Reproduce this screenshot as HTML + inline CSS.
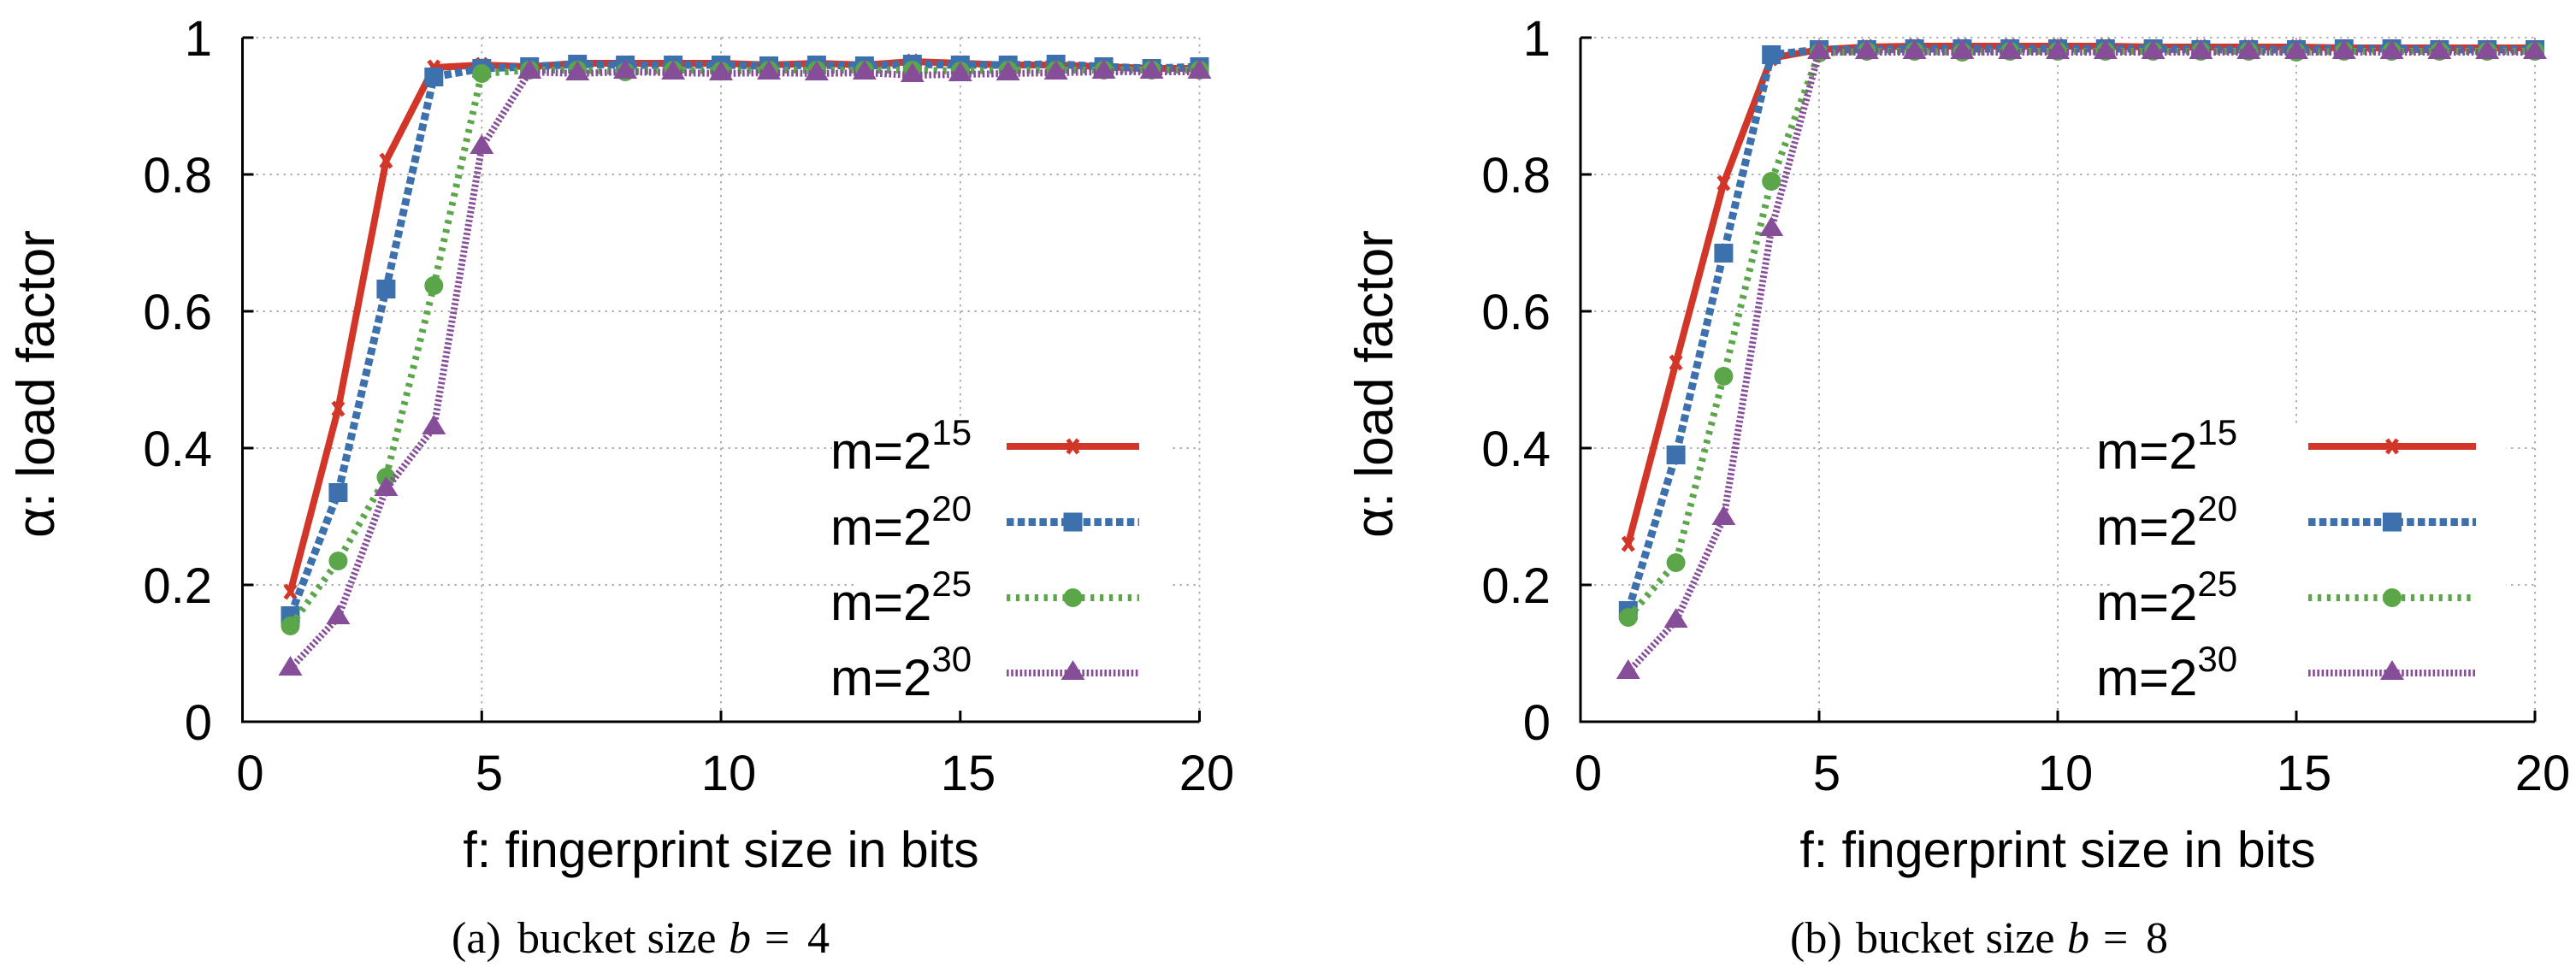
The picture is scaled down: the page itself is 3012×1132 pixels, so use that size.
<!DOCTYPE html>
<html>
<head>
<meta charset="utf-8">
<style>
  html, body { margin: 0; padding: 0; background: #ffffff; }
  svg { display: block; }
  .t { font-family: "Liberation Sans", Arial, sans-serif; fill: #000; }
  .s { font-family: "Liberation Serif", "Times New Roman", serif; fill: #000; }
</style>
</head>
<body>
<svg width="3012" height="1132" viewBox="0 0 3012 1132" xmlns="http://www.w3.org/2000/svg">
  <rect x="0" y="0" width="3012" height="1132" fill="#ffffff"/>
  <defs>
    <g id="mr"><path d="M-6,-8L6,8M6,-8L-6,8" stroke="#d13628" stroke-width="5" fill="none"/></g>
    <rect id="mb" x="-11" y="-11" width="22" height="22" fill="#3d71ae"/>
    <circle id="mg" r="11" fill="#5ba649"/>
    <path id="mp" d="M0,-15L14,8L-14,8Z" fill="#864e98"/>
  </defs>

  <!-- ================= LEFT PANEL ================= -->
  <g stroke="#a8a8a8" stroke-width="1.8" stroke-dasharray="2.5 5.5" fill="none">
    <line x1="283.5" y1="44" x2="1402.5" y2="44"/>
    <line x1="283.5" y1="204" x2="1402.5" y2="204"/>
    <line x1="283.5" y1="364" x2="1402.5" y2="364"/>
    <line x1="283.5" y1="524" x2="1402.5" y2="524"/>
    <line x1="283.5" y1="684" x2="1402.5" y2="684"/>
    <line x1="563.3" y1="44" x2="563.3" y2="844"/>
    <line x1="843" y1="44" x2="843" y2="844"/>
    <line x1="1122.8" y1="44" x2="1122.8" y2="844"/>
    <line x1="1402.5" y1="44" x2="1402.5" y2="844"/>
  </g>
  <rect x="973" y="495" width="393" height="110" fill="#fff"/>
  <rect x="998" y="600" width="368" height="232" fill="#fff"/>
  <g stroke="#000" stroke-width="3" fill="none">
    <path d="M283.5,44V845.5M282,844H1402.5"/>
    <path d="M283.5,44h13M283.5,204h13M283.5,364h13M283.5,524h13M283.5,684h13"/>
    <path d="M563.3,844v-13M843,844v-13M1122.8,844v-13M1402.5,844v-13"/>
  </g>
  <g class="t" font-size="58" text-anchor="end">
    <text x="248" y="865">0</text>
    <text x="248" y="705">0.2</text>
    <text x="248" y="545">0.4</text>
    <text x="248" y="385">0.6</text>
    <text x="248" y="225">0.8</text>
    <text x="248" y="65">1</text>
  </g>
  <g class="t" font-size="58" text-anchor="middle">
    <text x="292.5" y="924">0</text>
    <text x="572" y="924">5</text>
    <text x="852" y="924">10</text>
    <text x="1132" y="924">15</text>
    <text x="1411" y="924">20</text>
  </g>
  <text class="t" x="843" y="1014" font-size="59" text-anchor="middle">f: fingerprint size in bits</text>
  <text class="t" font-size="62" text-anchor="middle" transform="translate(63,449) rotate(-90)">α: load factor</text>

  <polyline fill="none" stroke="#d13628" stroke-width="8" stroke-linejoin="round" points="339.5,692 395.4,478 451.4,188 507.3,79 563.3,76 619.2,78 675.2,74 731.1,74 787.1,74 843,74 899,76 954.9,74 1010.9,76 1066.8,72 1122.8,74 1178.7,76 1234.7,76 1290.6,78 1346.6,80 1402.5,80"/>
  <g>
    <use href="#mr" x="339.5" y="692"/><use href="#mr" x="395.4" y="478"/><use href="#mr" x="451.4" y="188"/><use href="#mr" x="507.3" y="79"/><use href="#mr" x="563.3" y="76"/><use href="#mr" x="619.2" y="78"/><use href="#mr" x="675.2" y="74"/><use href="#mr" x="731.1" y="74"/><use href="#mr" x="787.1" y="74"/><use href="#mr" x="843" y="74"/><use href="#mr" x="899" y="76"/><use href="#mr" x="954.9" y="74"/><use href="#mr" x="1010.9" y="76"/><use href="#mr" x="1066.8" y="72"/><use href="#mr" x="1122.8" y="74"/><use href="#mr" x="1178.7" y="76"/><use href="#mr" x="1234.7" y="76"/><use href="#mr" x="1290.6" y="78"/><use href="#mr" x="1346.6" y="80"/><use href="#mr" x="1402.5" y="80"/>
  </g>
  <polyline fill="none" stroke="#3d71ae" stroke-width="9" stroke-dasharray="8.5 4.3" points="339.5,720 395.4,576 451.4,338 507.3,90 563.3,80 619.2,78 675.2,75 731.1,76 787.1,76 843,76 899,77 954.9,76 1010.9,77 1066.8,75 1122.8,76 1178.7,76 1234.7,75 1290.6,78 1346.6,80 1402.5,78"/>
  <g>
    <use href="#mb" x="339.5" y="720"/><use href="#mb" x="395.4" y="576"/><use href="#mb" x="451.4" y="338"/><use href="#mb" x="507.3" y="90"/><use href="#mb" x="563.3" y="80"/><use href="#mb" x="619.2" y="78"/><use href="#mb" x="675.2" y="75"/><use href="#mb" x="731.1" y="76"/><use href="#mb" x="787.1" y="76"/><use href="#mb" x="843" y="76"/><use href="#mb" x="899" y="77"/><use href="#mb" x="954.9" y="76"/><use href="#mb" x="1010.9" y="77"/><use href="#mb" x="1066.8" y="75"/><use href="#mb" x="1122.8" y="76"/><use href="#mb" x="1178.7" y="76"/><use href="#mb" x="1234.7" y="75"/><use href="#mb" x="1290.6" y="78"/><use href="#mb" x="1346.6" y="80"/><use href="#mb" x="1402.5" y="78"/>
  </g>
  <polyline fill="none" stroke="#5ba649" stroke-width="8" stroke-dasharray="4.3 6.6" points="339.5,732 395.4,656 451.4,558 507.3,334 563.3,86 619.2,82 675.2,82 731.1,84 787.1,82 843,83 899,82 954.9,82 1010.9,82 1066.8,82 1122.8,83 1178.7,82 1234.7,82 1290.6,82 1346.6,82 1402.5,82"/>
  <g>
    <use href="#mg" x="339.5" y="732"/><use href="#mg" x="395.4" y="656"/><use href="#mg" x="451.4" y="558"/><use href="#mg" x="507.3" y="334"/><use href="#mg" x="563.3" y="86"/><use href="#mg" x="619.2" y="82"/><use href="#mg" x="675.2" y="82"/><use href="#mg" x="731.1" y="84"/><use href="#mg" x="787.1" y="82"/><use href="#mg" x="843" y="83"/><use href="#mg" x="899" y="82"/><use href="#mg" x="954.9" y="82"/><use href="#mg" x="1010.9" y="82"/><use href="#mg" x="1066.8" y="82"/><use href="#mg" x="1122.8" y="83"/><use href="#mg" x="1178.7" y="82"/><use href="#mg" x="1234.7" y="82"/><use href="#mg" x="1290.6" y="82"/><use href="#mg" x="1346.6" y="82"/><use href="#mg" x="1402.5" y="82"/>
  </g>
  <polyline fill="none" stroke="#864e98" stroke-width="8" stroke-dasharray="2.6 2.6" points="339.5,782 395.4,722 451.4,572 507.3,500 563.3,172 619.2,84 675.2,86 731.1,84 787.1,85 843,86 899,85 954.9,86 1010.9,85 1066.8,88 1122.8,87 1178.7,86 1234.7,85 1290.6,84 1346.6,84 1402.5,84"/>
  <g>
    <use href="#mp" x="339.5" y="782"/><use href="#mp" x="395.4" y="722"/><use href="#mp" x="451.4" y="572"/><use href="#mp" x="507.3" y="500"/><use href="#mp" x="563.3" y="172"/><use href="#mp" x="619.2" y="84"/><use href="#mp" x="675.2" y="86"/><use href="#mp" x="731.1" y="84"/><use href="#mp" x="787.1" y="85"/><use href="#mp" x="843" y="86"/><use href="#mp" x="899" y="85"/><use href="#mp" x="954.9" y="86"/><use href="#mp" x="1010.9" y="85"/><use href="#mp" x="1066.8" y="88"/><use href="#mp" x="1122.8" y="87"/><use href="#mp" x="1178.7" y="86"/><use href="#mp" x="1234.7" y="85"/><use href="#mp" x="1290.6" y="84"/><use href="#mp" x="1346.6" y="84"/><use href="#mp" x="1402.5" y="84"/>
  </g>

  <g class="t" font-size="60">
    <text x="971" y="548">m=2<tspan font-size="42" dy="-28">15</tspan></text>
    <text x="971" y="637">m=2<tspan font-size="42" dy="-28">20</tspan></text>
    <text x="971" y="725">m=2<tspan font-size="42" dy="-28">25</tspan></text>
    <text x="971" y="813">m=2<tspan font-size="42" dy="-28">30</tspan></text>
  </g>
  <line x1="1177" y1="522" x2="1332" y2="522" stroke="#d13628" stroke-width="8"/>
  <use href="#mr" x="1254.5" y="522"/>
  <line x1="1177" y1="610.5" x2="1332" y2="610.5" stroke="#3d71ae" stroke-width="9" stroke-dasharray="8.5 4.3"/>
  <use href="#mb" x="1254.5" y="610.5"/>
  <line x1="1177" y1="699" x2="1332" y2="699" stroke="#5ba649" stroke-width="8" stroke-dasharray="4.3 6.6"/>
  <use href="#mg" x="1254.5" y="699"/>
  <line x1="1177" y1="787" x2="1332" y2="787" stroke="#864e98" stroke-width="8" stroke-dasharray="2.6 2.6"/>
  <use href="#mp" x="1254.5" y="787"/>

  <g class="s" font-size="52">
    <text x="528" y="1114">(a)</text>
    <text x="605" y="1114">bucket size</text>
    <text x="852" y="1114" font-style="italic">b</text>
    <text x="894" y="1114">=</text>
    <text x="944" y="1114">4</text>
  </g>

  <!-- ================= RIGHT PANEL ================= -->
  <g stroke="#a8a8a8" stroke-width="1.8" stroke-dasharray="2.5 5.5" fill="none">
    <line x1="1848" y1="44" x2="2964" y2="44"/>
    <line x1="1848" y1="204" x2="2964" y2="204"/>
    <line x1="1848" y1="364" x2="2964" y2="364"/>
    <line x1="1848" y1="524" x2="2964" y2="524"/>
    <line x1="1848" y1="684" x2="2964" y2="684"/>
    <line x1="2127" y1="44" x2="2127" y2="844"/>
    <line x1="2406" y1="44" x2="2406" y2="844"/>
    <line x1="2685" y1="44" x2="2685" y2="844"/>
    <line x1="2964" y1="44" x2="2964" y2="844"/>
  </g>
  <rect x="2445" y="495" width="485" height="110" fill="#fff"/>
  <rect x="2470" y="600" width="460" height="232" fill="#fff"/>
  <g stroke="#000" stroke-width="3" fill="none">
    <path d="M1848,44V845.5M1846.5,844H2964"/>
    <path d="M1848,44h13M1848,204h13M1848,364h13M1848,524h13M1848,684h13"/>
    <path d="M2127,844v-13M2406,844v-13M2685,844v-13M2964,844v-13"/>
  </g>
  <g class="t" font-size="58" text-anchor="end">
    <text x="1813" y="865">0</text>
    <text x="1813" y="705">0.2</text>
    <text x="1813" y="545">0.4</text>
    <text x="1813" y="385">0.6</text>
    <text x="1813" y="225">0.8</text>
    <text x="1813" y="65">1</text>
  </g>
  <g class="t" font-size="58" text-anchor="middle">
    <text x="1857" y="924">0</text>
    <text x="2136" y="924">5</text>
    <text x="2415" y="924">10</text>
    <text x="2694" y="924">15</text>
    <text x="2973" y="924">20</text>
  </g>
  <text class="t" x="2406" y="1014" font-size="59" text-anchor="middle">f: fingerprint size in bits</text>
  <text class="t" font-size="62" text-anchor="middle" transform="translate(1628,449) rotate(-90)">α: load factor</text>

  <polyline fill="none" stroke="#d13628" stroke-width="8" stroke-linejoin="round" points="1903.8,636 1959.6,424 2015.4,214 2071.2,68 2127,58 2182.8,55 2238.6,54 2294.4,54 2350.2,54 2406,54 2461.8,54 2517.6,55 2573.4,55 2629.2,55 2685,55 2740.8,56 2796.6,56 2852.4,56 2908.2,56 2964,56"/>
  <g>
    <use href="#mr" x="1903.8" y="636"/><use href="#mr" x="1959.6" y="424"/><use href="#mr" x="2015.4" y="214"/><use href="#mr" x="2071.2" y="68"/><use href="#mr" x="2127" y="58"/><use href="#mr" x="2182.8" y="55"/><use href="#mr" x="2238.6" y="54"/><use href="#mr" x="2294.4" y="54"/><use href="#mr" x="2350.2" y="54"/><use href="#mr" x="2406" y="54"/><use href="#mr" x="2461.8" y="54"/><use href="#mr" x="2517.6" y="55"/><use href="#mr" x="2573.4" y="55"/><use href="#mr" x="2629.2" y="55"/><use href="#mr" x="2685" y="55"/><use href="#mr" x="2740.8" y="56"/><use href="#mr" x="2796.6" y="56"/><use href="#mr" x="2852.4" y="56"/><use href="#mr" x="2908.2" y="56"/><use href="#mr" x="2964" y="56"/>
  </g>
  <polyline fill="none" stroke="#3d71ae" stroke-width="9" stroke-dasharray="8.5 4.3" points="1903.8,714 1959.6,532 2015.4,296 2071.2,64 2127,58 2182.8,58 2238.6,57 2294.4,57 2350.2,57 2406,57 2461.8,57 2517.6,57 2573.4,58 2629.2,58 2685,58 2740.8,57 2796.6,57 2852.4,58 2908.2,58 2964,58"/>
  <g>
    <use href="#mb" x="1903.8" y="714"/><use href="#mb" x="1959.6" y="532"/><use href="#mb" x="2015.4" y="296"/><use href="#mb" x="2071.2" y="64"/><use href="#mb" x="2127" y="58"/><use href="#mb" x="2182.8" y="58"/><use href="#mb" x="2238.6" y="57"/><use href="#mb" x="2294.4" y="57"/><use href="#mb" x="2350.2" y="57"/><use href="#mb" x="2406" y="57"/><use href="#mb" x="2461.8" y="57"/><use href="#mb" x="2517.6" y="57"/><use href="#mb" x="2573.4" y="58"/><use href="#mb" x="2629.2" y="58"/><use href="#mb" x="2685" y="58"/><use href="#mb" x="2740.8" y="57"/><use href="#mb" x="2796.6" y="57"/><use href="#mb" x="2852.4" y="58"/><use href="#mb" x="2908.2" y="58"/><use href="#mb" x="2964" y="58"/>
  </g>
  <polyline fill="none" stroke="#5ba649" stroke-width="8" stroke-dasharray="4.3 6.6" points="1903.8,722 1959.6,658 2015.4,440 2071.2,212 2127,62 2182.8,60 2238.6,60 2294.4,61 2350.2,60 2406,60 2461.8,60 2517.6,60 2573.4,60 2629.2,60 2685,61 2740.8,60 2796.6,60 2852.4,60 2908.2,60 2964,60"/>
  <g>
    <use href="#mg" x="1903.8" y="722"/><use href="#mg" x="1959.6" y="658"/><use href="#mg" x="2015.4" y="440"/><use href="#mg" x="2071.2" y="212"/><use href="#mg" x="2127" y="62"/><use href="#mg" x="2182.8" y="60"/><use href="#mg" x="2238.6" y="60"/><use href="#mg" x="2294.4" y="61"/><use href="#mg" x="2350.2" y="60"/><use href="#mg" x="2406" y="60"/><use href="#mg" x="2461.8" y="60"/><use href="#mg" x="2517.6" y="60"/><use href="#mg" x="2573.4" y="60"/><use href="#mg" x="2629.2" y="60"/><use href="#mg" x="2685" y="61"/><use href="#mg" x="2740.8" y="60"/><use href="#mg" x="2796.6" y="60"/><use href="#mg" x="2852.4" y="60"/><use href="#mg" x="2908.2" y="60"/><use href="#mg" x="2964" y="60"/>
  </g>
  <polyline fill="none" stroke="#864e98" stroke-width="8" stroke-dasharray="2.6 2.6" points="1903.8,786 1959.6,726 2015.4,606 2071.2,268 2127,61 2182.8,61 2238.6,61 2294.4,61 2350.2,61 2406,61 2461.8,61 2517.6,61 2573.4,61 2629.2,61 2685,61 2740.8,61 2796.6,61 2852.4,61 2908.2,61 2964,61"/>
  <g>
    <use href="#mp" x="1903.8" y="786"/><use href="#mp" x="1959.6" y="726"/><use href="#mp" x="2015.4" y="606"/><use href="#mp" x="2071.2" y="268"/><use href="#mp" x="2127" y="61"/><use href="#mp" x="2182.8" y="61"/><use href="#mp" x="2238.6" y="61"/><use href="#mp" x="2294.4" y="61"/><use href="#mp" x="2350.2" y="61"/><use href="#mp" x="2406" y="61"/><use href="#mp" x="2461.8" y="61"/><use href="#mp" x="2517.6" y="61"/><use href="#mp" x="2573.4" y="61"/><use href="#mp" x="2629.2" y="61"/><use href="#mp" x="2685" y="61"/><use href="#mp" x="2740.8" y="61"/><use href="#mp" x="2796.6" y="61"/><use href="#mp" x="2852.4" y="61"/><use href="#mp" x="2908.2" y="61"/><use href="#mp" x="2964" y="61"/>
  </g>

  <g class="t" font-size="60">
    <text x="2451" y="548">m=2<tspan font-size="42" dy="-28">15</tspan></text>
    <text x="2451" y="637">m=2<tspan font-size="42" dy="-28">20</tspan></text>
    <text x="2451" y="725">m=2<tspan font-size="42" dy="-28">25</tspan></text>
    <text x="2451" y="813">m=2<tspan font-size="42" dy="-28">30</tspan></text>
  </g>
  <line x1="2699" y1="522" x2="2895" y2="522" stroke="#d13628" stroke-width="8"/>
  <use href="#mr" x="2797" y="522"/>
  <line x1="2699" y1="610.5" x2="2895" y2="610.5" stroke="#3d71ae" stroke-width="9" stroke-dasharray="8.5 4.3"/>
  <use href="#mb" x="2797" y="610.5"/>
  <line x1="2699" y1="699" x2="2895" y2="699" stroke="#5ba649" stroke-width="8" stroke-dasharray="4.3 6.6"/>
  <use href="#mg" x="2797" y="699"/>
  <line x1="2699" y1="787" x2="2895" y2="787" stroke="#864e98" stroke-width="8" stroke-dasharray="2.6 2.6"/>
  <use href="#mp" x="2797" y="787"/>

  <g class="s" font-size="52">
    <text x="2093" y="1114">(b)</text>
    <text x="2170" y="1114">bucket size</text>
    <text x="2417" y="1114" font-style="italic">b</text>
    <text x="2459" y="1114">=</text>
    <text x="2509" y="1114">8</text>
  </g>
</svg>
</body>
</html>
